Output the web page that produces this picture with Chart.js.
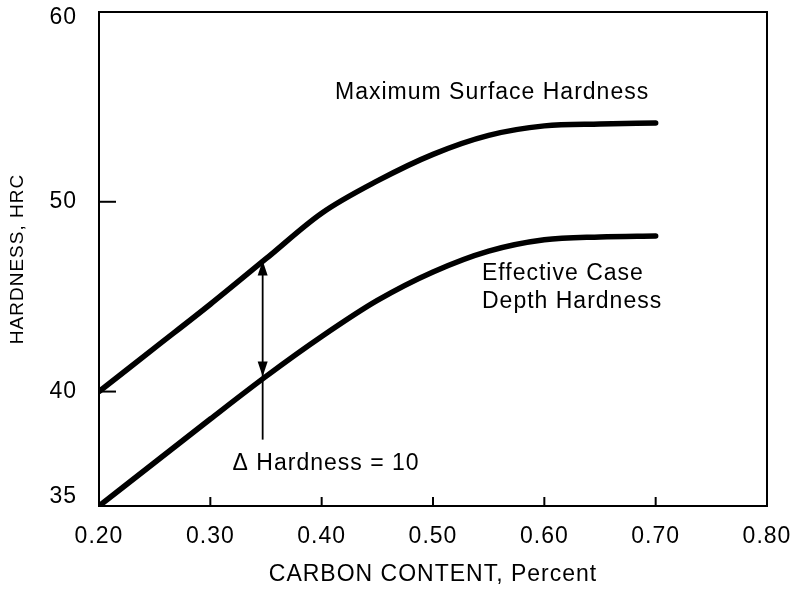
<!DOCTYPE html>
<html>
<head>
<meta charset="utf-8">
<script src="https://cdn.jsdelivr.net/npm/chart.js@4"></script>
<style>html,body{margin:0;padding:0;background:#fff;}canvas{display:block;}</style>
</head>
<body>
<canvas id="c" width="791" height="591"></canvas>
<script>
// ---------- data ----------
const carbon = [0.20, 0.25, 0.30, 0.35, 0.40, 0.45, 0.50, 0.55, 0.60, 0.65, 0.70];
const maxSurfaceHardness = [40.0, 42.3, 44.6, 47.0, 49.4, 51.1, 52.5, 53.5, 54.0, 54.1, 54.15];
const effectiveCaseHardness = [35.0, 36.9, 38.8, 40.8, 42.9, 44.8, 46.3, 47.4, 48.0, 48.15, 48.2];
const xTicks = [0.20, 0.30, 0.40, 0.50, 0.60, 0.70, 0.80];
const yTicks = [35, 40, 50, 60];
const yMin = 35, yMax = 60, yBreak = 40, yBreakStretch = 1.206;
// delta-hardness arrow (carbon, hardness values)
const arrowX = 0.347;
const arrowTop = 46.9;
const arrowBottom = 40.8;
const arrowTail = 37.9;
// text annotations anchored in data coordinates (left / baseline)
const annoText = ['Maximum Surface Hardness', 'Effective Case', 'Depth Hardness', '\u0394 Hardness = 10'];
const annoX = [0.412, 0.544, 0.544, 0.320];
const annoY = [55.42, 45.88, 44.40, 36.58];

const FONT = '"Liberation Sans", Arial, Helvetica, sans-serif';
const INK = '#000';

// Linear scale whose lower segment (below yBreak) is drawn stretched, as in the original figure
class BrokenLinearScale extends Chart.LinearScale {
  toVirtual(v) { return v >= yBreak ? v : yBreak - (yBreak - v) * yBreakStretch; }
  getPixelForValue(v) { return super.getPixelForValue(this.toVirtual(v)); }
  getValueForPixel(p) {
    const v = super.getValueForPixel(p);
    return v >= yBreak ? v : yBreak - (yBreak - v) / yBreakStretch;
  }
  getPixelForTick(i) {
    const p = super.getPixelForTick(i);
    if (p === null) return p;
    return Math.min(Math.max(p, this.top + 6), this.bottom - 9.5);
  }
}
BrokenLinearScale.id = 'brokenLinear';
BrokenLinearScale.defaults = Chart.LinearScale.defaults;
Chart.register(BrokenLinearScale);

function zeroPadding(s) { s.paddingTop = 0; s.paddingBottom = 0; s.paddingLeft = 0; s.paddingRight = 0; }

const overlay = {
  id: 'overlay',
  beforeUpdate(chart) { chart.ctx.letterSpacing = '1px'; },
  beforeDraw(chart) {
    const c = chart.ctx;
    c.letterSpacing = '1px';
    c.save();
    c.fillStyle = '#fff';
    c.fillRect(0, 0, chart.width, chart.height);
    c.restore();
  },
  afterDatasetsDraw(chart) {
    const { ctx, chartArea: a, scales: { x, y } } = chart;
    ctx.save();
    ctx.strokeStyle = INK;
    ctx.fillStyle = INK;
    ctx.lineWidth = 2;
    ctx.strokeRect(a.left, a.top, a.right - a.left, a.bottom - a.top);
    // inward tick marks
    xTicks.forEach(v => {
      const px = x.getPixelForValue(v);
      if (px <= a.left + 2 || px >= a.right - 2) return;
      ctx.beginPath(); ctx.moveTo(px, a.bottom); ctx.lineTo(px, a.bottom - 9); ctx.stroke();
    });
    yTicks.forEach(v => {
      const py = y.getPixelForValue(v);
      if (py <= a.top + 2 || py >= a.bottom - 2) return;
      ctx.beginPath(); ctx.moveTo(a.left, py); ctx.lineTo(a.left + 17, py); ctx.stroke();
    });
    // delta arrow
    const ax = x.getPixelForValue(arrowX);
    const yt = y.getPixelForValue(arrowTop);
    const yb = y.getPixelForValue(arrowBottom);
    const yl = y.getPixelForValue(arrowTail);
    ctx.lineWidth = 1.8;
    ctx.beginPath(); ctx.moveTo(ax, yt + 10); ctx.lineTo(ax, yl); ctx.stroke();
    ctx.beginPath(); ctx.moveTo(ax, yt); ctx.lineTo(ax - 5, yt + 15); ctx.lineTo(ax + 5, yt + 15); ctx.closePath(); ctx.fill();
    ctx.beginPath(); ctx.moveTo(ax, yb); ctx.lineTo(ax - 5, yb - 15); ctx.lineTo(ax + 5, yb - 15); ctx.closePath(); ctx.fill();
    // labels
    ctx.font = '23px ' + FONT;
    ctx.textAlign = 'left';
    ctx.textBaseline = 'alphabetic';
    annoText.forEach((t, i) => ctx.fillText(t, x.getPixelForValue(annoX[i]), y.getPixelForValue(annoY[i])));
    ctx.restore();
  }
};

const lineStyle = {
  borderColor: INK, borderWidth: 5.5, pointRadius: 0, fill: false,
  cubicInterpolationMode: 'monotone', borderCapStyle: 'round', borderJoinStyle: 'round'
};

new Chart(document.getElementById('c'), {
  type: 'line',
  data: {
    datasets: [
      Object.assign({ label: 'Maximum Surface Hardness', data: carbon.map((c, i) => ({ x: c, y: maxSurfaceHardness[i] })) }, lineStyle),
      Object.assign({ label: 'Effective Case Depth Hardness', data: carbon.map((c, i) => ({ x: c, y: effectiveCaseHardness[i] })) }, lineStyle)
    ]
  },
  options: {
    responsive: false,
    animation: false,
    devicePixelRatio: 1,
    layout: { padding: { left: 6, right: 24, top: 12, bottom: 3 } },
    plugins: { legend: { display: false }, tooltip: { enabled: false } },
    scales: {
      x: {
        type: 'linear', min: xTicks[0], max: xTicks[xTicks.length - 1], bounds: 'data',
        afterBuildTicks: s => { s.ticks = xTicks.map(v => ({ value: v })); },
        ticks: { callback: v => Number(v).toFixed(2), color: INK, font: { family: FONT, size: 23, lineHeight: 1 }, padding: 19, maxRotation: 0, autoSkip: false },
        grid: { display: false, drawTicks: false },
        border: { display: false },
        title: { display: true, text: 'CARBON CONTENT, Percent', color: INK, font: { family: FONT, size: 23, lineHeight: 1.2 }, padding: 0 },
        afterFit: s => { s.height = 591 - 506 - 3; zeroPadding(s); }
      },
      y: {
        type: 'brokenLinear',
        min: yBreak - (yBreak - yMin) * yBreakStretch, max: yMax, bounds: 'data',
        afterBuildTicks: s => { s.ticks = yTicks.map(v => ({ value: v })); },
        ticks: { callback: v => String(v), color: INK, font: { family: FONT, size: 23, lineHeight: 1 }, padding: 22, autoSkip: false },
        grid: { display: false, drawTicks: false },
        border: { display: false },
        title: { display: true, text: 'HARDNESS, HRC', color: INK, font: { family: FONT, size: 19, lineHeight: 1.2 }, padding: 0 },
        afterFit: s => { s.width = 99 - 6; zeroPadding(s); }
      }
    }
  },
  plugins: [overlay]
});
</script>
</body>
</html>
